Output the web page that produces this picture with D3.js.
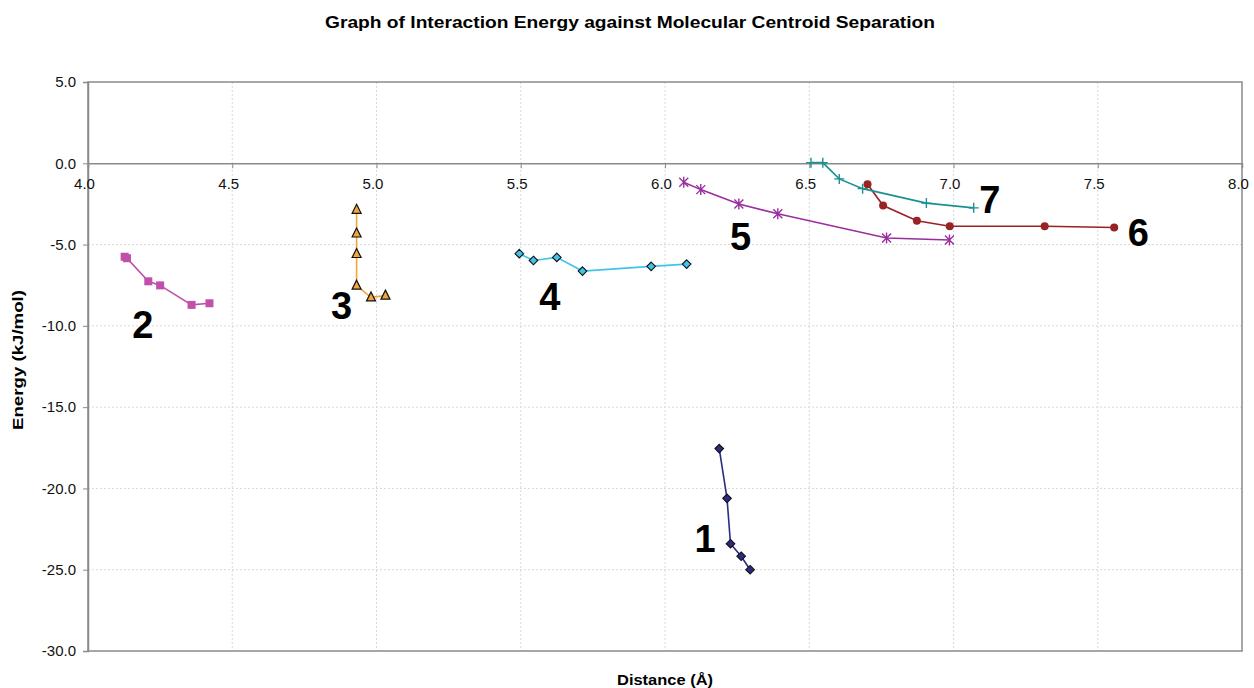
<!DOCTYPE html>
<html>
<head>
<meta charset="utf-8">
<script src="https://cdn.jsdelivr.net/npm/d3@7"></script>
<style>
  body { margin: 0; background: #fff; }
  text { font-family: "Liberation Sans", Arial, sans-serif; }
</style>
</head>
<body>
<div id="chart"></div>
<script>
// ---- data ----
var xTicks = [4.0, 4.5, 5.0, 5.5, 6.0, 6.5, 7.0, 7.5, 8.0];
var yTicks = [5.0, 0.0, -5.0, -10.0, -15.0, -20.0, -25.0, -30.0];

var s1x = [6.188, 6.215, 6.227, 6.264, 6.295];
var s1y = [-17.55, -20.61, -23.40, -24.17, -25.00];

var s2x = [4.127, 4.135, 4.209, 4.250, 4.359, 4.421];
var s2y = [-5.75, -5.84, -7.26, -7.51, -8.71, -8.61];

var s3x = [4.931, 4.931, 4.931, 4.931, 4.981, 5.031];
var s3y = [-2.86, -4.32, -5.58, -7.53, -8.25, -8.14];

var s4x = [5.495, 5.544, 5.625, 5.714, 5.952, 6.075];
var s4y = [-5.56, -5.98, -5.79, -6.63, -6.34, -6.20];

var s5x = [6.065, 6.124, 6.256, 6.391, 6.768, 6.986];
var s5y = [-1.17, -1.62, -2.50, -3.11, -4.60, -4.72];

var s6x = [6.702, 6.756, 6.873, 6.987, 7.316, 7.557];
var s6y = [-1.29, -2.60, -3.54, -3.87, -3.87, -3.95];

var s7x = [6.506, 6.547, 6.604, 6.685, 6.906, 7.070];
var s7y = [0.04, 0.04, -0.96, -1.56, -2.45, -2.74];

// big number labels, in data units (x = centre, y = baseline)
var labelNames = ["1", "2", "3", "4", "5", "6", "7"];
var labelX = [6.139, 4.190, 4.879, 5.601, 6.262, 7.641, 7.126];
var labelY = [-23.9, -10.74, -9.58, -9.03, -5.32, -5.09, -3.04];

var series = [
  { xs: s1x, ys: s1y, color: "#2b2b82", marker: "diamond", size: 4.3 },
  { xs: s2x, ys: s2y, color: "#c050aa", marker: "square", size: 4 },
  { xs: s3x, ys: s3y, color: "#f3a43a", marker: "triangle", size: 4.5 },
  { xs: s4x, ys: s4y, color: "#42c3ea", marker: "diamond", size: 4.3 },
  { xs: s5x, ys: s5y, color: "#9a2e9e", marker: "star", size: 4.5 },
  { xs: s6x, ys: s6y, color: "#982224", marker: "circle", size: 4 },
  { xs: s7x, ys: s7y, color: "#1b9090", marker: "plus", size: 5 }
];

var width = 1254, height = 688;
// plot frame (named so they don't clash with window.top etc.)
var plotL = 88, plotR = 1242, plotT = 82, plotB = 651;

var svg = d3.select("#chart").append("svg")
  .attr("width", width)
  .attr("height", height);

var x = d3.scaleLinear().domain([4, 8]).range([plotL, plotR]);
var y = d3.scaleLinear().domain([5, -30]).range([plotT, plotB]);

// plain hyphen minus like the original spreadsheet
var fmt = function(d) { return d3.format(".1f")(d).replace("\u2212", "-"); };

// gridlines
svg.append("g").selectAll("line")
  .data(xTicks.slice(1, -1))
  .enter().append("line")
  .attr("x1", function(d) { return x(d); })
  .attr("x2", function(d) { return x(d); })
  .attr("y1", plotT).attr("y2", plotB)
  .attr("stroke", "#d8d8d8")
  .attr("stroke-dasharray", "2,2");

svg.append("g").selectAll("line")
  .data(yTicks.filter(function(d) { return d !== 0 && d !== 5 && d !== -30; }))
  .enter().append("line")
  .attr("x1", plotL).attr("x2", plotR)
  .attr("y1", function(d) { return y(d); })
  .attr("y2", function(d) { return y(d); })
  .attr("stroke", "#d8d8d8")
  .attr("stroke-dasharray", "2,2");

// frame
svg.append("rect")
  .attr("x", plotL).attr("y", plotT)
  .attr("width", plotR - plotL).attr("height", plotB - plotT)
  .attr("fill", "none")
  .attr("stroke", "#8a8a8a")
  .attr("stroke-width", 1.5);

// y axis
var yAxis = d3.axisLeft(y)
  .tickValues(yTicks)
  .tickSize(5)
  .tickFormat(fmt);
var gy = svg.append("g")
  .attr("transform", "translate(" + plotL + ",0)")
  .call(yAxis);
gy.select(".domain").attr("stroke", "#8a8a8a").attr("stroke-width", 1.5);
gy.selectAll(".tick line").attr("stroke", "#8a8a8a");
gy.selectAll(".tick text")
  .attr("font-size", 15)
  .attr("fill", "#111")
  .attr("x", -12)
  .style("font-family", "Liberation Sans, Arial, sans-serif");

// x axis crossing at y = 0
var xAxis = d3.axisBottom(x)
  .tickValues(xTicks)
  .tickSize(5)
  .tickFormat(fmt);
var gx = svg.append("g")
  .attr("transform", "translate(0," + y(0) + ")")
  .call(xAxis);
gx.select(".domain").attr("stroke", "#8a8a8a").attr("stroke-width", 1.5);
gx.selectAll(".tick line").attr("stroke", "#8a8a8a");
gx.selectAll(".tick text")
  .attr("font-size", 15)
  .attr("fill", "#111")
  .attr("x", -4)
  .attr("y", 15)
  .style("font-family", "Liberation Sans, Arial, sans-serif");

// series
series.forEach(function(s) {
  var pts = s.xs.map(function(v, i) { return [v, s.ys[i]]; });
  var line = d3.line()
    .x(function(d) { return x(d[0]); })
    .y(function(d) { return y(d[1]); });

  svg.append("path")
    .datum(pts)
    .attr("d", line)
    .attr("fill", "none")
    .attr("stroke", s.color)
    .attr("stroke-width", 1.6);

  var g = svg.append("g");
  pts.forEach(function(p) {
    var cx = x(p[0]), cy = y(p[1]), r = s.size;
    if (s.marker === "plus") {
      g.append("path")
        .attr("d", "M" + (cx - r) + "," + cy + "H" + (cx + r) + "M" + cx + "," + (cy - r) + "V" + (cy + r))
        .attr("stroke", s.color).attr("stroke-width", 1.4);
    } else if (s.marker === "star") {
      g.append("path")
        .attr("d", "M" + (cx - r) + "," + (cy - r) + "L" + (cx + r) + "," + (cy + r) +
                   "M" + (cx - r) + "," + (cy + r) + "L" + (cx + r) + "," + (cy - r) +
                   "M" + cx + "," + (cy - r - 1) + "V" + (cy + r + 1))
        .attr("stroke", s.color).attr("stroke-width", 1.4);
    } else if (s.marker === "diamond") {
      g.append("path")
        .attr("d", "M" + cx + "," + (cy - r) + "L" + (cx + r) + "," + cy +
                   "L" + cx + "," + (cy + r) + "L" + (cx - r) + "," + cy + "Z")
        .attr("fill", s.color).attr("stroke", "#111").attr("stroke-width", 1.1);
    } else if (s.marker === "triangle") {
      g.append("path")
        .attr("d", "M" + cx + "," + (cy - r - 1) + "L" + (cx + r) + "," + (cy + r - 1) +
                   "L" + (cx - r) + "," + (cy + r - 1) + "Z")
        .attr("fill", s.color).attr("stroke", "#111").attr("stroke-width", 1.2);
    } else if (s.marker === "square") {
      g.append("rect")
        .attr("x", cx - r).attr("y", cy - r)
        .attr("width", 2 * r).attr("height", 2 * r)
        .attr("fill", s.color);
    } else {
      g.append("circle")
        .attr("cx", cx).attr("cy", cy).attr("r", r)
        .attr("fill", s.color);
    }
  });
});

// big number labels
svg.append("g").selectAll("text")
  .data(labelNames)
  .enter().append("text")
  .attr("x", function(d, i) { return x(labelX[i]); })
  .attr("y", function(d, i) { return y(labelY[i]); })
  .attr("text-anchor", "middle")
  .attr("font-size", 38)
  .attr("font-weight", "bold")
  .attr("fill", "#000")
  .text(function(d) { return d; });

// title and axis titles
svg.append("text")
  .attr("x", 630).attr("y", 28)
  .attr("text-anchor", "middle")
  .attr("font-size", 16)
  .attr("font-weight", "bold")
  .attr("textLength", 610)
  .attr("lengthAdjust", "spacingAndGlyphs")
  .text("Graph of Interaction Energy against Molecular Centroid Separation");

svg.append("text")
  .attr("transform", "translate(23,360) rotate(-90)")
  .attr("text-anchor", "middle")
  .attr("font-size", 14.5)
  .attr("font-weight", "bold")
  .attr("textLength", 140)
  .attr("lengthAdjust", "spacingAndGlyphs")
  .text("Energy (kJ/mol)");

svg.append("text")
  .attr("x", 665).attr("y", 685)
  .attr("text-anchor", "middle")
  .attr("font-size", 15)
  .attr("font-weight", "bold")
  .attr("textLength", 96)
  .attr("lengthAdjust", "spacingAndGlyphs")
  .text("Distance (Å)");
</script>
</body>
</html>
